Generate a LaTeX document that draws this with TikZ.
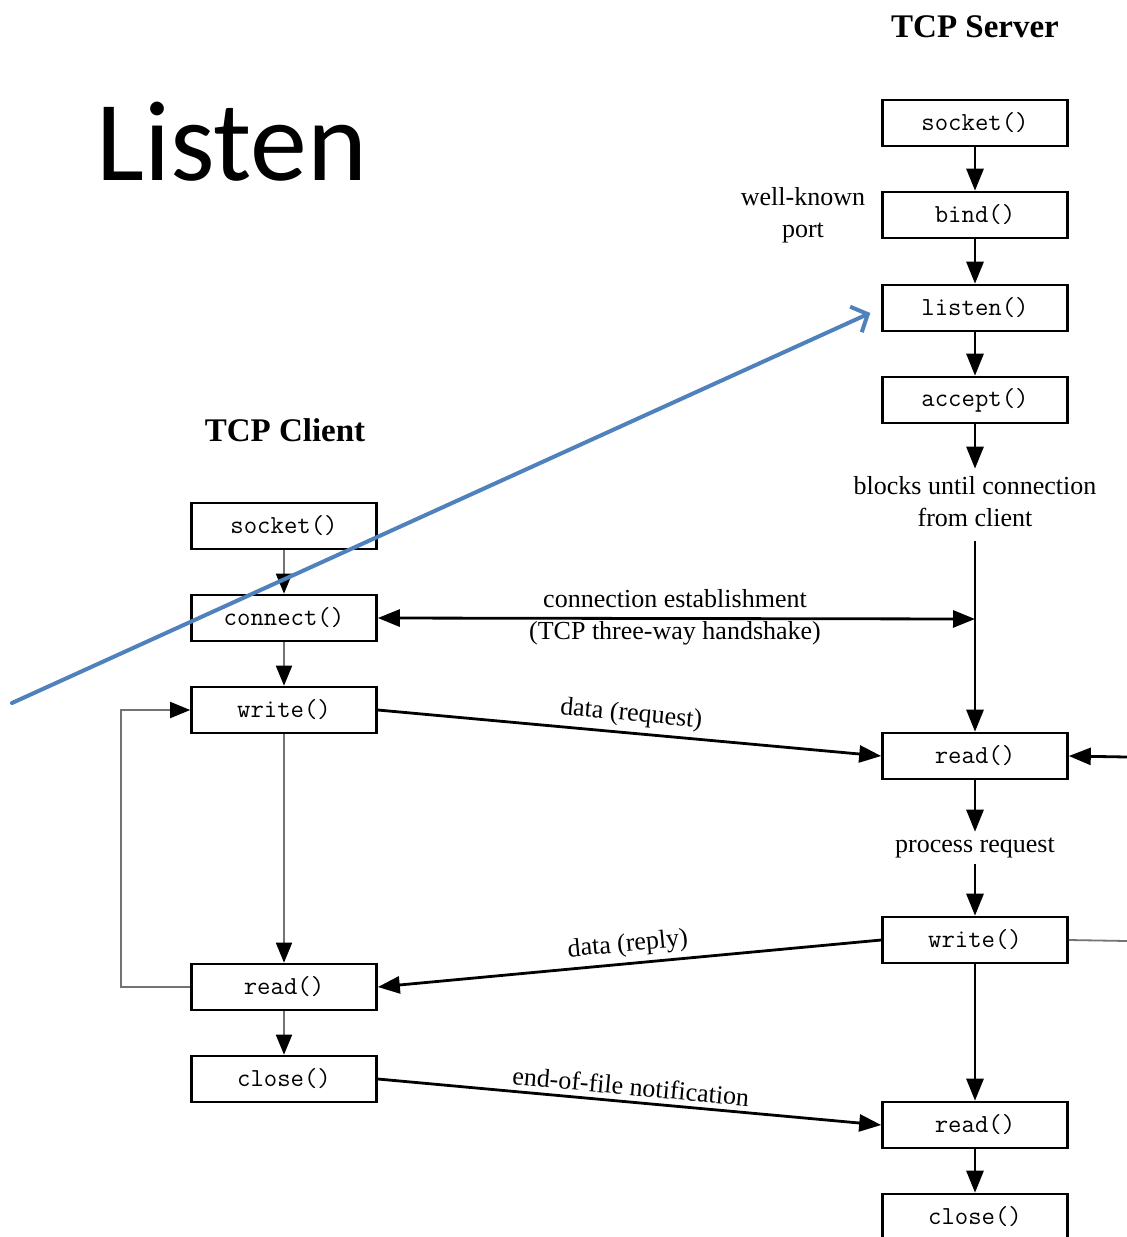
\documentclass[tikz,border=0pt]{standalone}
\usepackage{fontspec}
\setmainfont{Liberation Serif}
\newfontfamily\slidefont{Carlito}
\usetikzlibrary{arrows.meta}

\begin{document}
\begin{tikzpicture}[x=1pt,y=-1pt,
  call/.style={draw, line width=2.6pt, minimum width=185pt, minimum height=46pt,
    inner sep=0pt, fill=white, font=\fontsize{26}{26}\selectfont\ttfamily},
  lbl/.style={inner sep=0pt, align=center, font=\fontsize{26}{32}\selectfont},
  heading/.style={inner sep=0pt, font=\fontsize{33}{33}\selectfont\bfseries},
  flow/.style={line width=2.8pt, -{Triangle[length=22pt,width=17pt]}},
  sline/.style={line width=1.8pt, draw=black!55},
  cflow/.style={line width=1.8pt, draw=black!55, -{Triangle[length=20pt,width=16pt,color=black]}},
  both/.style={line width=2.8pt, {Triangle[length=22pt,width=17pt]}-{Triangle[length=22pt,width=17pt]}},
  pointer/.style={line width=4pt, draw={rgb,255:red,79;green,129;blue,189}, line cap=round,
    -{Straight Barb[length=13pt,width=28pt,line width=4pt]}}
]
\useasboundingbox (0,0) rectangle (1127,1237);

% slide title
\node[inner sep=0pt, font=\fontsize{114}{114}\selectfont\slidefont] (slidetitle) at (232,142) {Listen};

% column headings
\node[heading] (srvhead) at (975,27) {TCP Server};
\node[heading] (clihead) at (285,430) {TCP Client};

% server calls
\node[call] (ssock)   at (975,123)  {socket()};
\node[call] (sbind)   at (975,215)  {bind()};
\node[call] (slisten) at (975,308)  {listen()};
\node[call] (saccept) at (975,400)  {accept()};
\node[lbl]  (blocks)  at (975,502)  {blocks until connection\\from client};
\node[call] (sread)   at (975,756)  {read()};
\node[lbl]  (proc)    at (975,848)  {process request};
\node[call] (swrite)  at (975,940)  {write()};
\node[call] (sread2)  at (975,1125) {read()};
\node[call] (sclose)  at (975,1217) {close()};
\node[lbl]  (wkport)  at (803,215)  {well-known\\port};

% client calls
\node[call] (csock)  at (284,526)  {socket()};
\node[call] (cconn)  at (284,618)  {connect()};
\node[call] (cwrite) at (284,710)  {write()};
\node[call] (cread)  at (284,987)  {read()};
\node[call] (cclose) at (284,1079) {close()};

% free ends
\coordinate (hs)    at (975,619);
\coordinate (rin)   at (1127,757);
\coordinate (rout)  at (1127,941);
\coordinate (pstart) at (12,703);

% server flow
\draw[flow] (ssock) -- (sbind);
\draw[flow] (sbind) -- (slisten);
\draw[flow] (slisten) -- (saccept);
\draw[flow, shorten >=8pt] (saccept) -- (blocks.north);
\draw[flow, shorten <=14pt] (blocks.south) -- (sread);
\draw[flow, shorten >=6pt] (sread) -- (proc.north);
\draw[flow, shorten <=6pt] (proc.south) -- (swrite);
\draw[flow] (swrite) -- (sread2);
\draw[flow] (sread2) -- (sclose);
\draw[flow] (rin) -- (sread.east);
\draw[sline] (swrite.east) -- (rout);

% client flow
\draw[cflow] (csock) -- (cconn);
\draw[cflow] (cconn) -- (cwrite);
\draw[cflow] (cwrite) -- (cread);
\draw[cflow] (cread) -- (cclose);
\draw[cflow] (cread.west) -- ++(-69,0) |- (cwrite.west);

% exchanges between client and server
\draw[both] (cconn.east) -- (hs);
\node[lbl] (hslabel) at (675,617) {connection establishment\\(TCP three-way handshake)};
\draw[flow] (cwrite.east) -- node[lbl, sloped, above=5pt] {data (request)} (sread.west);
\draw[flow] (swrite.west) -- node[lbl, sloped, above=5pt] {data (reply)} (cread.east);
\draw[flow] (cclose.east) -- node[lbl, sloped, above=5pt] {end-of-file notification} (sread2.west);

% callout pointer
\draw[pointer, shorten >=12pt] (pstart) -- (slisten.west);
\end{tikzpicture}
\end{document}
